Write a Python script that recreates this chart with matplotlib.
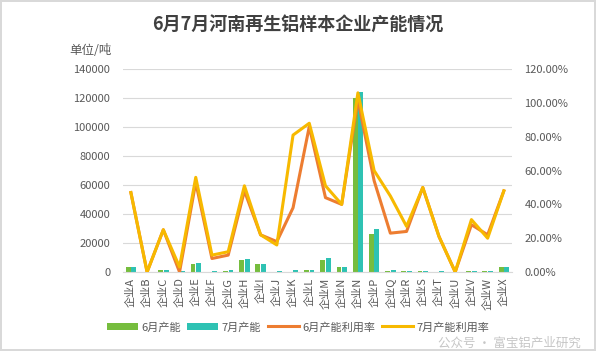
import matplotlib.pyplot as plt
import numpy as np

plt.rcParams['font.family'] = ['Noto Sans CJK SC', 'DejaVu Sans']

companies = ["企业A", "企业B", "企业C", "企业D", "企业E", "企业F", "企业G", "企业H",
             "企业I", "企业J", "企业K", "企业L", "企业M", "企业N", "企业N", "企业P",
             "企业Q", "企业R", "企业S", "企业T", "企业U", "企业V", "企业W", "企业X"]
cap_jun = [3800, 0, 1500, 0, 5500, 0, 600, 8000, 5500, 0, 0, 1500,
           8000, 3500, 120000, 26500, 500, 500, 500, 0, 0, 500, 500, 3800]
cap_jul = [3800, 0, 1500, 1000, 6500, 800, 1500, 9000, 5500, 800, 1500, 1500,
           9500, 3500, 124000, 29500, 1500, 800, 800, 500, 0, 800, 800, 3800]
util_jun = [47, 0, 25, 0, 53, 8, 10, 48, 22, 18, 38, 86,
            44, 40, 102, 54, 23, 24, 50, 21, 0, 28, 22, 48]
util_jul = [47, 0, 25, 3, 56, 10, 12, 51, 22, 16, 81, 88,
            51, 40, 106, 60, 45, 27, 50, 21, 0, 31, 20, 48]

GREEN = "#76bd3e"
TEAL = "#2ec2b3"
ORANGE = "#ed7d31"
YELLOW = "#f7b900"
GREY = "#595959"

fig = plt.figure(figsize=(5.96, 3.51), dpi=100)
fig.patch.set_edgecolor("#d9d9d9")
fig.patch.set_linewidth(1.5)
ax = fig.add_axes([0.206, 0.225, 0.653, 0.578])
ax2 = ax.twinx()

x = np.arange(len(companies))
w = 0.3
ax.bar(x - w / 2 - 0.02, cap_jun, width=w, color=GREEN, label="6月产能", zorder=2)
ax.bar(x + w / 2 + 0.02, cap_jul, width=w, color=TEAL, label="7月产能", zorder=2)
ax2.plot(x, util_jun, color=ORANGE, lw=2.2, label="6月产能利用率", zorder=3)
ax2.plot(x, util_jul, color=YELLOW, lw=2.2, label="7月产能利用率", zorder=4)

ax.set_xlim(-0.5, len(companies) - 0.5)
ax.set_ylim(0, 140000)
ax.set_yticks(range(0, 140001, 20000))
ax2.set_ylim(0, 120)
ax2.set_yticks(range(0, 121, 20))
ax2.set_yticklabels([f"{v:.2f}%" for v in range(0, 121, 20)])

ax.set_xticks(x)
ax.set_xticklabels(companies, rotation=90, fontsize=7, color=GREY)
ax.grid(axis="y", color="#d9d9d9", lw=0.8, zorder=0)
for a in (ax, ax2):
    for s in a.spines.values():
        s.set_visible(False)
    a.tick_params(length=0, labelsize=8, labelcolor=GREY)
ax.spines["bottom"].set_visible(True)
ax.spines["bottom"].set_color("#d9d9d9")
ax.tick_params(axis="y", pad=9)
ax2.tick_params(axis="y", pad=9)
ax.tick_params(axis="x", pad=4)

fig.text(0.5, 0.928, "6月7月河南再生铝样本企业产能情况", ha="center", va="center",
         fontsize=13, fontweight="bold", color="#404040")
fig.text(0.117, 0.855, "单位/吨", ha="left", va="center", fontsize=9, color=GREY)

h1, l1 = ax.get_legend_handles_labels()
h2, l2 = ax2.get_legend_handles_labels()
fig.legend(h1 + h2, l1 + l2, loc="center", bbox_to_anchor=(0.5, 0.068), ncol=4,
           frameon=False, fontsize=8, labelcolor=GREY, handlelength=2.8,
           handletextpad=0.3, columnspacing=0.6)
fig.text(0.975, 0.022, "公众号 · 富宝铝产业研究", ha="right", va="center",
         fontsize=9, color="#a0a0a0", alpha=0.6)

fig.savefig("out.png", dpi=100)
